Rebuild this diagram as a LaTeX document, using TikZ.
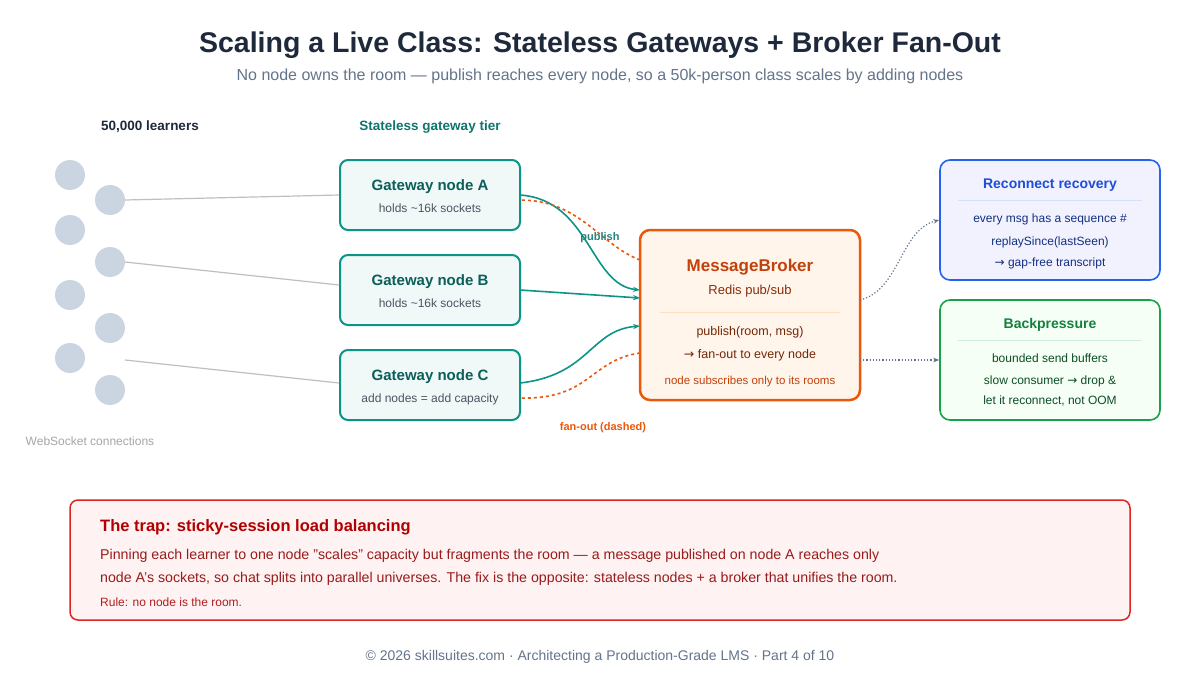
\documentclass[tikz,border=0pt]{standalone}
\usepackage{fontspec}
\setmainfont{Liberation Sans}
\newfontfamily\arr{DejaVu Sans}
\usetikzlibrary{arrows.meta}
\definecolor{navy}{HTML}{1E293B}
\definecolor{slate}{HTML}{64748B}
\definecolor{teal}{HTML}{0D9488}
\definecolor{tealdk}{HTML}{0F766E}
\definecolor{orng}{HTML}{EA580C}
\definecolor{orngdk}{HTML}{C2410C}
\definecolor{blu}{HTML}{2563EB}
\definecolor{bludk}{HTML}{1D4ED8}
\definecolor{grn}{HTML}{16A34A}
\definecolor{grndk}{HTML}{15803D}
\definecolor{rd}{HTML}{DC2626}
\definecolor{rddk}{HTML}{991B1B}
\newcommand{\fs}[1]{\fontsize{#1}{#1}\selectfont}
\newcommand{\ra}{{\arr →}}
\tikzset{
 learner/.style={circle,minimum size=30pt,inner sep=0pt},
 gw/.style={draw=teal,line width=2pt,fill=teal!6,rounded corners=8pt,minimum width=180pt,minimum height=70pt},
 card/.style={line width=1.6pt,rounded corners=10pt,minimum width=220pt,minimum height=120pt},
 txt/.style={inner sep=0pt,anchor=base},
 flow/.style={teal,line width=1.6pt,-{Stealth[length=7pt]}},
 back/.style={orng,line width=1.6pt,dashed},
 dot/.style={slate,line width=1.2pt,dotted,-{Stealth[length=6pt]}}
}
\begin{document}
\begin{tikzpicture}[x=1pt,y=-1pt]
\useasboundingbox (0,0) rectangle (1200,680);
\fill[white] (0,0) rectangle (1200,680);
\node[txt,navy,font=\bfseries\fs{28.5}] (title) at (600,52) {Scaling a Live Class: Stateless Gateways + Broker Fan-Out};
\node[txt,slate,font=\fs{16}] (sub) at (600,80) {No node owns the room — publish reaches every node, so a 50k-person class scales by adding nodes};
\node[txt,navy,font=\bfseries\fs{13.5}] (lh) at (150,130) {50,000 learners};
\node[txt,tealdk,font=\bfseries\fs{13.5}] (gh) at (430,130) {Stateless gateway tier};
\foreach \i/\x/\y in {1/70/175,2/110/200,3/70/230,4/110/262,5/70/295,6/110/328,7/70/358,8/110/390}
 \node[learner,fill={rgb,255:red,203;green,213;blue,225}] (l\i) at (\x,\y) {};
\node[txt,gray!70,font=\fs{12}] (ws) at (90,445) {WebSocket connections};
\node[gw] (A) at (430,195) {};
\node[gw] (B) at (430,290) {};
\node[gw] (C) at (430,385) {};
\foreach \n/\t/\s in {A/Gateway node A/holds \textasciitilde16k sockets,B/Gateway node B/holds \textasciitilde16k sockets,C/Gateway node C/add nodes = add capacity}{
 \node[txt,tealdk!80!black,font=\bfseries\fs{15}] at ([yshift=5pt]\n.center) {\t};
 \node[txt,navy!80,font=\fs{12}] at ([yshift=-17pt]\n.center) {\s};}
\coordinate (la) at (125,200); \coordinate (lb) at (125,262); \coordinate (lc) at (125,360);
\draw[gray!50,line width=1.2pt] (la) -- (A.west);
\draw[gray!50,line width=1.2pt] (lb) -- ([yshift=5pt]B.west);
\draw[gray!50,line width=1.2pt] (lc) -- ([yshift=2pt]C.west);
\node[draw=orng,line width=2.5pt,fill=orange!8,rounded corners=10pt,minimum width=220pt,minimum height=170pt] (M) at (750,315) {};
\node[txt,orngdk,font=\bfseries\fs{17}] at (750,271) {MessageBroker};
\node[txt,orngdk!70!black,font=\fs{13}] at (750,294) {Redis pub/sub};
\draw[orange!25,line width=1pt] (660,312) -- (840,312);
\node[txt,orngdk!60!black,font=\fs{12.5}] at (750,335) {publish(room, msg)};
\node[txt,orngdk!60!black,font=\fs{12.5}] at (750,358) {\ra{} fan-out to every node};
\node[txt,orngdk,font=\fs{11.5}] at (750,384) {node subscribes only to its rooms};
\draw[flow] (520,195) .. controls (590,200) and (590,285) .. (640,290);
\draw[flow] (520,290) -- (640,298);
\draw[flow] (520,383) .. controls (590,375) and (590,330) .. (640,326);
\draw[back] (640,260) .. controls (600,245) and (580,200) .. (520,200);
\draw[back] (640,353) .. controls (590,360) and (590,400) .. (520,398);
\node[txt,tealdk!90,font=\bfseries\fs{11}] at (600,240) {publish};
\node[txt,orng,font=\bfseries\fs{11}] at (603,430) {fan-out (dashed)};
\node[card,draw=blu,fill=blue!5] (R) at (1050,220) {};
\node[txt,bludk,font=\bfseries\fs{14}] at (1050,188) {Reconnect recovery};
\draw[blu!20,line width=1pt] (958,200) -- (1142,200);
\foreach \t/\y in {every msg has a sequence \#/222,replaySince(lastSeen)/245,\ra{} gap-free transcript/266}
 \node[txt,bludk!60!black,font=\fs{12}] at (1050,\y) {\t};
\node[card,draw=grn,fill=green!4] (P) at (1050,360) {};
\node[txt,grndk,font=\bfseries\fs{14}] at (1050,328) {Backpressure};
\draw[grn!20,line width=1pt] (958,340) -- (1142,340);
\foreach \t/\y in {bounded send buffers/362,slow consumer \ra{} drop \&/384,let it reconnect{,} not OOM/404}
 \node[txt,grndk!60!black,font=\fs{12}] at (1050,\y) {\t};
\draw[dot] (860,300) .. controls (900,290) and (900,230) .. (R.west |- 0,220);
\draw[dot] (860,360) -- (P.west);
\node[draw=rd,line width=1.5pt,fill=red!5,rounded corners=8pt,minimum width=1060pt,minimum height=120pt] (T) at (600,560) {};
\node[txt,anchor=base west,red!70!black,font=\bfseries\fs{16.5}] at (100,531) {The trap: sticky-session load balancing};
\node[txt,anchor=base west,rddk,font=\fs{14.2}] at (100,559) {Pinning each learner to one node "scales" capacity but fragments the room — a message published on node A reaches only};
\node[txt,anchor=base west,rddk,font=\fs{14.2}] at (100,582) {node A's sockets, so chat splits into parallel universes. The fix is the opposite: stateless nodes + a broker that unifies the room.};
\node[txt,anchor=base west,rd!80!black,font=\fs{12}] at (100,606) {Rule: no node is the room.};
\node[txt,slate,font=\fs{14}] (foot) at (600,660) {© 2026 skillsuites.com · Architecting a Production-Grade LMS · Part 4 of 10};
\end{tikzpicture}
\end{document}
